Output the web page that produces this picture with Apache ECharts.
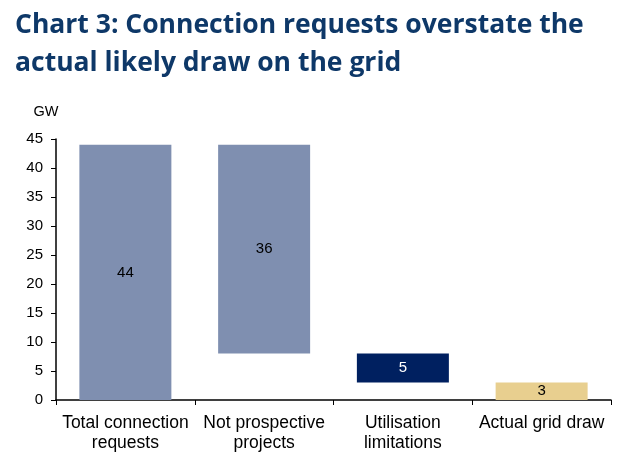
<!DOCTYPE html>
<html>
<head>
<meta charset="utf-8">
<script src="https://cdn.jsdelivr.net/npm/echarts@6/dist/echarts.min.js"></script>
<style>
  html, body { margin: 0; padding: 0; background: #fff; }
  #chart { width: 628px; height: 466px; }
</style>
</head>
<body>
<div id="chart"></div>
<script>
// chart data
var categories = ["Total connection\nrequests", "Not prospective\nprojects", "Utilisation\nlimitations", "Actual grid draw"];
var baseValues = [0, 8, 3, 0];
var barValues = [44, 36, 5, 3];
var barColors = ["#7f8fb0", "#7f8fb0", "#002060", "#e8cf8f"];
var labelColors = ["#000", "#000", "#fff", "#000"];

var myChart = echarts.init(document.getElementById("chart"));
myChart.setOption({
  backgroundColor: "#fff",
  animation: false,
  title: {
    text: "Chart 3: Connection requests overstate the\nactual likely draw on the grid",
    left: 10,
    top: 1,
    textStyle: {
      fontFamily: "Open Sans",
      fontWeight: "bold",
      fontSize: 26.5,
      lineHeight: 38,
      color: "#0e3868",
    },
  },
  grid: {
    left: 56,
    right: 17,
    top: 139,
    bottom: 66,
  },
  xAxis: {
    type: "category",
    data: categories,
    axisLine: { lineStyle: { color: "#000", width: 1.5 } },
    axisTick: { show: true, length: 5, lineStyle: { color: "#000" } },
    axisLabel: {
      fontFamily: "Liberation Sans",
      fontSize: 17.5,
      color: "#000",
      lineHeight: 20,
      margin: 13,
      interval: 0,
    },
  },
  yAxis: {
    type: "value",
    name: "GW",
    nameLocation: "end",
    nameGap: 20,
    nameTextStyle: {
      fontFamily: "Liberation Sans",
      fontSize: 14.5,
      color: "#000",
      align: "center",
      padding: [0, 20, 0, 0],
    },
    min: 0,
    max: 45,
    interval: 5,
    axisLine: { show: true, lineStyle: { color: "#000", width: 1.5 } },
    axisTick: { show: true, inside: false, length: 5, lineStyle: { color: "#000" } },
    axisLabel: {
      fontFamily: "Liberation Sans",
      fontSize: 15,
      color: "#000",
      margin: 13,
    },
    splitLine: { show: false },
  },
  series: [
    {
      name: "base",
      type: "bar",
      stack: "w",
      barWidth: 92,
      itemStyle: { color: "transparent" },
      data: baseValues,
      silent: true,
    },
    {
      name: "value",
      type: "bar",
      stack: "w",
      barWidth: 92,
      data: barValues.map(function (v, i) {
        return {
          value: v,
          itemStyle: { color: barColors[i] },
          label: { color: labelColors[i] },
        };
      }),
      label: {
        show: true,
        position: "inside",
        fontFamily: "Liberation Sans",
        fontSize: 15,
      },
    },
  ],
});
</script>
</body>
</html>
